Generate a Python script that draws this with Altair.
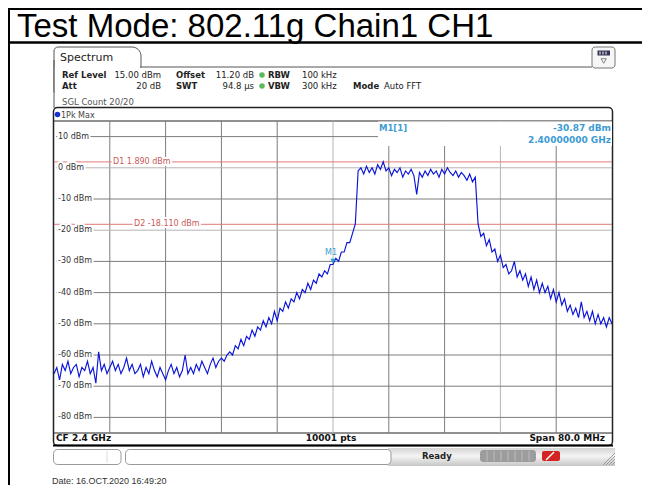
import altair as alt
import pandas as pd

# ---------------- data ----------------
title_text = "Test Mode: 802.11g Chain1 CH1"

span_mhz = [2360.0, 2440.0]          # CF 2.4 GHz, span 80 MHz
level_range = [-85.0, 15.0]          # ref level 15 dBm, 10 dB/div

freq_start_mhz = 2360.0
freq_step_mhz = 0.4
level_dbm = [
    -66, -64, -68, -63, -65, -62, -66, -64, -63, -67,
    -64, -65, -62, -66, -64, -69, -59, -65, -63, -66,
    -64, -62, -65, -63, -66, -64, -61, -65, -63, -66,
    -65, -63, -67, -64, -66, -62, -65, -67, -64, -66,
    -68, -65, -63, -66, -64, -67, -65, -60, -66, -64,
    -66, -63, -65, -62, -64, -66, -63, -61, -64, -62,
    -61, -62, -60, -59, -60, -57, -58, -55, -57, -54,
    -55, -52, -54, -51, -52, -49, -51, -48, -50, -46,
    -49, -45, -46, -43, -45, -42, -43, -40, -42, -39,
    -40, -37, -39, -36, -37, -34, -35, -33, -34, -31,
    -31, -29, -30, -27, -27, -24, -24, -21, -18, -1,
    0, -2, 0.5, -1.5, 0, -2, 1, -0.5, 1.9, -1,
    0, -2.5, -0.5, -1.5, 0, -3, -1, -2, -0.5, -2.5,
    -8.5, -1.5, -3, -1, -2.5, -0.5, -2, -1, -3, -0.5,
    -2, 0, -1.5, -2.5, -1, -3, -1.5, -2.5, -4, -2,
    -4.5, -3, -18, -22, -21, -25, -23, -27, -26, -30,
    -28, -32, -31, -34, -33, -30, -35, -33, -36, -34,
    -38, -35, -39, -36, -40, -37, -40, -38, -42, -39,
    -43, -40, -44, -42, -46, -44, -47, -45, -48, -43,
    -48, -46, -49, -46, -50, -47, -50, -48, -51, -48,
    -50,
]
freq_mhz = [round(freq_start_mhz + freq_step_mhz * i, 2) for i in range(len(level_dbm))]

grid_levels = [10, 0, -10, -20, -30, -40, -50, -60, -70, -80]
grid_level_labels = ["10 dBm", "0 dBm", "-10 dBm", "-20 dBm", "-30 dBm",
                     "-40 dBm", "-50 dBm", "-60 dBm", "-70 dBm", "-80 dBm"]
dark_levels = [0, -20]
grid_freqs = [2368, 2376, 2384, 2392, 2400, 2408, 2416, 2424, 2432]
light_freqs = [2400, 2424]

display_line_levels = [1.89, -18.11]
display_line_texts = ["D1  1.890 dBm", "D2  -18.110 dBm"]

marker_freq = [2400.0]
marker_level = [-30.87]
marker_texts = ["M1[1]", "-30.87 dBm", "2.40000000 GHz"]

header_row1 = ["Ref Level", "15.00 dBm", "Offset", "11.20 dB", "RBW", "100 kHz"]
header_row2 = ["Att", "20 dB", "SWT", "94.8 \u00b5s", "VBW", "300 kHz", "Mode", "Auto FFT"]
header_row3 = "SGL Count 20/20"
trace_name = "1Pk Max"
footer_texts = ["CF 2.4 GHz", "10001 pts", "Span 80.0 MHz"]
status_text = "Ready"
date_text = "Date: 16.OCT.2020  16:49:20"

# ---------------- layout helpers (page px -> chart px) ----------------
W, H = 558, 312
PAD = {"left": 46, "top": 113, "right": 30, "bottom": 52}
OX, OY = 8 + PAD["left"], 8 + PAD["top"]


def X(p):
    return p - OX


def Y(p):
    return p - OY


one = pd.DataFrame({"k": [0]})
UI = "DejaVu Sans"


def rule(x1, y1, x2, y2, color="#000000", w=1.0):
    return alt.Chart(one).mark_rule(color=color, strokeWidth=w).encode(
        x=alt.value(X(x1)), y=alt.value(Y(y1)), x2=alt.value(X(x2)), y2=alt.value(Y(y2)))


def box(x1, y1, x2, y2, **props):
    return alt.Chart(one).mark_rect(**props).encode(
        x=alt.value(X(x1)), x2=alt.value(X(x2)), y=alt.value(Y(y1)), y2=alt.value(Y(y2)))


def txt(x, y, s, size=8.5, color="#222222", weight="normal", align="left", font=UI):
    return alt.Chart(one).mark_text(
        text=s, align=align, baseline="alphabetic", font=font, fontSize=size,
        fontWeight=weight, color=color).encode(x=alt.value(X(x)), y=alt.value(Y(y)))


def dot(x, y, color, size=28, shape="circle"):
    return alt.Chart(one).mark_point(filled=True, shape=shape, size=size, color=color,
                                     opacity=1).encode(x=alt.value(X(x)), y=alt.value(Y(y)))


xs = alt.Scale(domain=span_mhz, nice=False, zero=False)
ys = alt.Scale(domain=level_range, nice=False, zero=False)

layers = []

# ---------- outer table ----------
layers += [
    rule(9, 8, 9, 487, w=2),
    rule(8, 9, 642, 9, w=2),
    rule(8, 42.5, 642, 42.5, w=2.5),
    txt(17, 37, title_text, size=33, color="#000000", font="Liberation Sans"),
]

# ---------- header panel ----------
layers += [
    box(54, 47, 141, 92, fill="white", stroke="#555555", strokeWidth=1,
        cornerRadiusTopLeft=4, cornerRadiusTopRight=9),
    box(54.6, 67.5, 146, 95, fill="white"),
    rule(140, 67, 592, 67, color="#555555"),
    rule(54, 60, 54, 108, color="#555555"),
    txt(60, 61, "Spectrum", size=11, color="#222222"),
    # icon
    box(592, 47, 615, 68, fill="#f6f6f6", stroke="#777777", strokeWidth=1, cornerRadius=3),
    box(597.5, 50.5, 610, 55.5, fill="#333355"),
    rule(600, 51.5, 600, 54.5, color="white"),
    rule(603, 51.5, 603, 54.5, color="white"),
    rule(606, 51.5, 606, 54.5, color="white"),
    alt.Chart(one).mark_point(shape="triangle-down", filled=False, size=28, color="#555555",
                              strokeWidth=1).encode(x=alt.value(X(603.7)), y=alt.value(Y(61))),
    # row 1
    txt(62, 78, header_row1[0], weight="bold"),
    txt(161, 78, header_row1[1], align="right"),
    txt(176, 78, header_row1[2], weight="bold"),
    txt(254, 78, header_row1[3], align="right"),
    dot(262, 75, "#5cb85c", 30),
    txt(268, 78, header_row1[4], weight="bold"),
    txt(302, 78, header_row1[5]),
    # row 2
    txt(62, 89, header_row2[0], weight="bold"),
    txt(161, 89, header_row2[1], align="right"),
    txt(176, 89, header_row2[2], weight="bold"),
    txt(254, 89, header_row2[3], align="right"),
    dot(262, 86, "#5cb85c", 30),
    txt(268, 89, header_row2[4], weight="bold"),
    txt(302, 89, header_row2[5]),
    txt(353, 89, header_row2[6], weight="bold"),
    txt(384, 89, header_row2[7]),
    # row 3
    txt(62, 105, header_row3, color="#555555"),
]

# ---------- plot frame ----------
layers += [
    box(53.5, 107.5, 612.5, 445.5, fill="white", stroke="#222222", strokeWidth=1.5, cornerRadius=4),
    rule(53, 445.5, 613, 445.5, w=2),
    rule(54, 121, 612, 121, color="#222222"),
    rule(54, 433, 612, 433, color="#222222"),
    dot(57.5, 114.5, "#1c2fd0", 30),
    txt(61, 118, trace_name, size=8, color="#444444"),
]

# ---------- grid ----------
vgrid = pd.DataFrame({"f": grid_freqs,
                      "kind": ["light" if f in light_freqs else "dark" for f in grid_freqs]})
layers.append(
    alt.Chart(vgrid).mark_rule(strokeWidth=1).encode(
        x=alt.X("f:Q", scale=xs, axis=None),
        y=alt.value(0), y2=alt.value(H),
        color=alt.Color("kind:N", scale=alt.Scale(domain=["dark", "light"],
                                                   range=["#7c7c7c", "#b4b4b4"]), legend=None)))

hgrid = pd.DataFrame({"v": grid_levels, "label": grid_level_labels,
                      "kind": ["black" if v in dark_levels else "gray" for v in grid_levels]})
layers.append(
    alt.Chart(hgrid).mark_rule(strokeWidth=1).encode(
        y=alt.Y("v:Q", scale=ys, axis=None),
        x=alt.value(X(56)), x2=alt.value(W),
        color=alt.Color("kind:N", scale=alt.Scale(domain=["gray", "black"],
                                                   range=["#8a8a8a", "#111111"]), legend=None)))

# marker info area (covers grid)
layers.append(box(378, 121.6, 612, 146, fill="white"))

# display lines
dl = pd.DataFrame({"v": display_line_levels, "label": display_line_texts})
layers.append(
    alt.Chart(dl).mark_rule(color="#e07a7a", strokeWidth=1).encode(
        y=alt.Y("v:Q", scale=ys, axis=None), x=alt.value(0), x2=alt.value(W)))

# y labels with white halo
for stroke_on in (True, False):
    props = dict(align="left", baseline="middle", font=UI, fontSize=8, color="#333333")
    if stroke_on:
        props.update(color="white", stroke="white", strokeWidth=4)
    layers.append(alt.Chart(hgrid).mark_text(**props).encode(
        y=alt.Y("v:Q", scale=ys, axis=None), x=alt.value(X(58)), text="label:N"))

dl_x = [113, 134]
for i in range(len(display_line_levels)):
    sub = dl.iloc[[i]]
    for stroke_on in (True, False):
        props = dict(align="left", baseline="middle", font=UI, fontSize=8, color="#c85a5a")
        if stroke_on:
            props.update(color="white", stroke="white", strokeWidth=4)
        layers.append(alt.Chart(sub).mark_text(**props).encode(
            y=alt.Y("v:Q", scale=ys, axis=None), x=alt.value(X(dl_x[i])), text="label:N"))

# marker label (under trace)
mk = pd.DataFrame({"f": marker_freq, "v": marker_level})
layers.append(alt.Chart(mk).mark_text(text="M1", font=UI, fontSize=8, color="#3a9fd2",
                                      dx=-2, dy=-11).encode(
    x=alt.X("f:Q", scale=xs, axis=None), y=alt.Y("v:Q", scale=ys, axis=None)))

# trace
trace = pd.DataFrame({"f": freq_mhz, "v": level_dbm})
layers.append(alt.Chart(trace).mark_line(color="#0a14d8", strokeWidth=1.15).encode(
    x=alt.X("f:Q", scale=xs, axis=None), y=alt.Y("v:Q", scale=ys, axis=None)))

# marker triangle
layers.append(alt.Chart(mk).mark_point(shape="triangle-down", filled=True, size=28,
                                       color="#2a96d8", opacity=1, yOffset=-3).encode(
    x=alt.X("f:Q", scale=xs, axis=None), y=alt.Y("v:Q", scale=ys, axis=None)))

# marker info text
layers += [
    txt(379, 131, marker_texts[0], size=8.5, color="#3d9bd4", weight="bold"),
    txt(611, 131, marker_texts[1], size=9, color="#3d9bd4", weight="bold", align="right"),
    txt(611, 142.5, marker_texts[2], size=9, color="#3d9bd4", weight="bold", align="right"),
]

# footer band of plot
layers += [
    txt(56, 441, footer_texts[0], size=9, weight="bold", color="#111111"),
    txt(331, 441, footer_texts[1], size=9, weight="bold", color="#111111", align="center"),
    txt(605, 441, footer_texts[2], size=9, weight="bold", color="#111111", align="right"),
]

# ---------- status bar ----------
grad = alt.Gradient(gradient="linear",
                    stops=[alt.GradientStop(color="#d4d4d4", offset=0),
                           alt.GradientStop(color="#f4f4f4", offset=0.45),
                           alt.GradientStop(color="#c6c6c6", offset=1)],
                    x1=0, x2=0, y1=0, y2=1)
layers += [
    box(388, 448, 615, 466, fill=grad),
    box(53.5, 449.5, 121, 464.5, fill="white", stroke="#999999", strokeWidth=1, cornerRadius=4),
    rule(107, 451, 107, 463, color="#dddddd"),
    box(125.5, 449.5, 391, 464.5, fill="white", stroke="#999999", strokeWidth=1, cornerRadius=4),
    txt(422, 458.5, status_text, size=8.5, weight="bold", color="#222222"),
    box(480, 450, 536, 462, fill="#9c9c9c", cornerRadius=3),
]
for k in range(1, 8):
    xx = 480 + k * 7
    layers.append(rule(xx, 451, xx, 461, color="#bdbdbd"))
layers += [
    box(542, 451, 560, 461, fill="#d42323", cornerRadius=2),
    rule(546, 460, 554, 452, color="white", w=1.5),
]
for k in range(4):
    layers.append(rule(615, 453 + k * 3, 603 + k * 3, 465, color="#999999"))

# date
layers.append(txt(52, 484, date_text, size=9, color="#333333", font="Liberation Sans"))

chart = alt.layer(*layers).properties(
    width=W, height=H, padding=PAD,
    autosize=alt.AutoSizeParams(type="none"),
).configure_view(stroke=None)

chart.save("out.html", embed_options={"renderer": "svg", "actions": False})
